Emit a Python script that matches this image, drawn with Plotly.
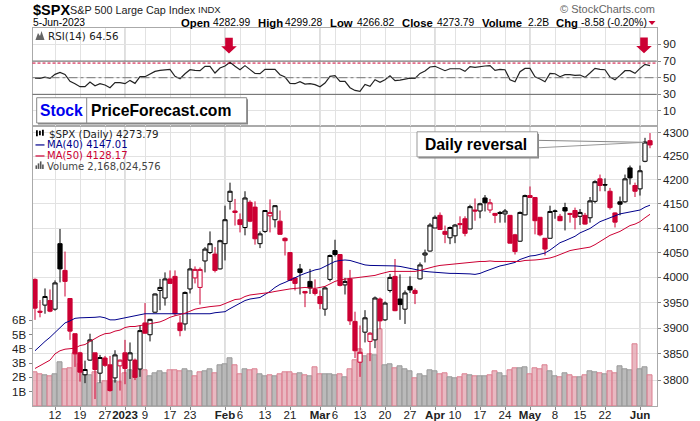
import plotly.graph_objects as go

# SPX daily, 6-Dec-2022 to 5-Jun-2023 (124 sessions)
opens = [3996, 3933, 3945, 3954, 3937, 4068, 4014, 3958, 3889, 3852,
         3810, 3838, 3852, 3813, 3842, 3829, 3804, 3827, 3852, 3838,
         3838, 3821, 3910, 3887, 3931, 3974, 3959, 3997, 4002, 3910,
         3908, 3977, 3999, 3980, 4033, 4050, 4047, 4017, 4068, 4155,
         4135, 4117, 4101, 4153, 4143, 4068, 4093, 4125, 4117, 4114,
         4079, 4050, 3999, 4017, 3972, 3992, 3976, 3962, 3937, 3996,
         4054, 4046, 3985, 3997, 3913, 3834, 3892, 3874, 3877, 3957,
         3916, 3974, 4002, 3957, 3937, 3982, 3974, 3997, 4045, 4053,
         4100, 4126, 4093, 4080, 4084, 4109, 4119, 4098, 4137, 4135,
         4162, 4137, 4130, 4132, 4129, 4126, 4086, 4073, 4127, 4167,
         4163, 4122, 4079, 4079, 4134, 4124, 4142, 4130, 4136, 4124,
         4126, 4121, 4155, 4202, 4190, 4176, 4131, 4154, 4154, 4225,
         4188, 4181, 4239, 4282.99]
highs = [3998, 3955, 3978, 3976, 3994, 4098, 4052, 3958, 3889, 3854,
         3837, 3889, 3852, 3848, 3846, 3846, 3857, 3839, 3877, 3872,
         3841, 3905, 3949, 3918, 3968, 3997, 4010, 4014, 4014, 3924,
         3972, 4037, 4022, 4020, 4061, 4093, 4061, 4076, 4146, 4194,
         4160, 4130, 4176, 4157, 4155, 4093, 4137, 4159, 4147, 4136,
         4081, 4050, 4000, 4027, 3972, 4017, 3996, 3974, 3982, 4046,
         4076, 4047, 3999, 4015, 3932, 3905, 3935, 3892, 3962, 3960,
         3952, 4007, 4037, 4006, 3974, 4002, 3978, 4030, 4056, 4110,
         4126, 4132, 4105, 4103, 4108, 4124, 4124, 4148, 4161, 4152,
         4168, 4160, 4131, 4135, 4139, 4126, 4088, 4134, 4169, 4186,
         4164, 4122, 4079, 4146, 4138, 4129, 4152, 4131, 4142, 4139,
         4131, 4164, 4199, 4211, 4203, 4183, 4132, 4165, 4211, 4230,
         4194, 4230, 4289, 4299.28]
lows = [3916, 3921, 3928, 3931, 3934, 3990, 3962, 3877, 3825, 3797,
        3794, 3837, 3764, 3795, 3825, 3778, 3795, 3780, 3792, 3802,
        3800, 3806, 3889, 3874, 3930, 3935, 3944, 3988, 3924, 3884,
        3895, 3968, 3988, 3946, 4010, 4047, 4010, 4016, 4034, 4138,
        4105, 4091, 4085, 4112, 4066, 4059, 4090, 4091, 4101, 4087,
        4044, 3994, 3974, 3966, 3941, 3967, 3964, 3937, 3924, 3992,
        4042, 3982, 3966, 3906, 3842, 3806, 3872, 3836, 3861, 3898,
        3914, 3970, 3933, 3916, 3908, 3969, 3947, 3996, 4030, 4052,
        4100, 4096, 4069, 4067, 4069, 4098, 4083, 4098, 4115, 4120,
        4134, 4131, 4110, 4111, 4111, 4069, 4046, 4072, 4126, 4162,
        4087, 4083, 4044, 4079, 4119, 4114, 4095, 4111, 4097, 4106,
        4107, 4111, 4151, 4176, 4176, 4138, 4101, 4126, 4152, 4190,
        4164, 4167, 4237, 4266.82]
closes = [3939, 3931, 3962, 3933, 3989, 4017, 3992, 3894, 3850, 3815,
          3820, 3877, 3820, 3843, 3828, 3780, 3848, 3838, 3822, 3852,
          3805, 3895, 3890, 3917, 3967, 3980, 3997, 3988, 3928, 3895,
          3970, 4017, 4016, 4016, 4057, 4068, 4014, 4074, 4117, 4176,
          4132, 4107, 4162, 4114, 4078, 4088, 4136, 4132, 4146, 4087,
          4074, 3994, 3988, 4010, 3969, 3979, 3968, 3948, 3979, 4044,
          4046, 3984, 3992, 3914, 3856, 3853, 3920, 3890, 3959, 3914,
          3949, 4000, 3934, 3946, 3969, 3975, 3968, 4025, 4049, 4106,
          4122, 4097, 4087, 4101, 4106, 4107, 4089, 4144, 4135, 4150,
          4152, 4152, 4126, 4130, 4135, 4069, 4052, 4132, 4167, 4163,
          4115, 4086, 4057, 4134, 4135, 4115, 4135, 4128, 4122, 4132,
          4108, 4156, 4196, 4188, 4189, 4142, 4112, 4149, 4202, 4204,
          4176, 4219, 4280, 4273.79]
# k = black candle / grey volume, r = red candle / pink volume
day_colors = ("rrkrkkrrrr" "kkrkrrkrrk" "rkrkkkkrrr" "kkrrkkrkkk" "rrkrrkkrkr"
              "rrrkrkrrkk" "krkrrrkrkr" "kkrkkkrkkk" "krrkkrrkrk" "krrkkrrkkr"
              "rrrkkrkrrk" "rkkrkrrkkk" "rkkr")
volume_b = [2.37, 2.23, 2.16, 2.09, 2.23, 3.08, 2.58, 2.65, 3.69, 2.93,
            2.16, 2.16, 2.35, 1.62, 1.76, 1.76, 1.76, 1.69, 2.30, 2.51,
            2.46, 2.51, 2.51, 2.09, 2.30, 2.46, 2.32, 2.51, 2.51, 2.46,
            2.58, 2.46, 2.09, 2.39, 2.46, 2.54, 2.30, 2.86, 2.93, 3.36,
            2.86, 2.23, 2.58, 2.51, 2.58, 2.23, 2.09, 2.16, 2.09, 2.23,
            2.39, 2.39, 2.23, 2.32, 2.16, 2.09, 2.72, 2.23, 2.23, 2.23,
            2.16, 2.23, 2.02, 2.58, 3.22, 3.99, 3.45, 3.64, 3.57, 5.40,
            2.86, 2.93, 2.65, 2.79, 2.58, 2.46, 1.95, 2.23, 2.09, 2.51,
            2.44, 2.23, 2.32, 2.02, 1.95, 2.02, 2.23, 2.16, 2.09, 2.09,
            2.09, 2.16, 2.44, 2.32, 2.09, 2.51, 2.65, 2.65, 2.72, 2.23,
            2.65, 2.58, 2.86, 2.44, 2.09, 2.02, 2.32, 2.16, 2.02, 2.02,
            2.16, 2.44, 2.37, 2.32, 2.23, 2.44, 2.32, 2.79, 2.58, 2.51,
            4.34, 2.58, 2.72, 2.17]
ma40 = [3856, 3866, 3874, 3882, 3892, 3901, 3910, 3914, 3919, 3920,
        3920, 3920, 3921, 3922, 3920, 3916, 3916, 3918, 3920, 3923,
        3925, 3926, 3928, 3928, 3928, 3928, 3928, 3928, 3928, 3928,
        3928, 3928, 3928, 3928, 3928, 3928, 3930, 3931, 3932, 3938,
        3943, 3948, 3954, 3957, 3959, 3960, 3966, 3972, 3980, 3986,
        3990, 3995, 3999, 4004, 4008, 4012, 4015, 4017, 4022, 4027,
        4032, 4034, 4035, 4034, 4031, 4028, 4025, 4024, 4024, 4024,
        4024, 4024, 4023, 4022, 4020, 4018, 4015, 4013, 4012, 4011,
        4010, 4009, 4008, 4008, 4008, 4008, 4007, 4007, 4006, 4008,
        4012, 4016, 4020, 4023, 4025, 4028, 4030, 4036, 4040, 4043,
        4044, 4046, 4049, 4055, 4063, 4070, 4074, 4079, 4083, 4090,
        4095, 4099, 4106, 4113, 4117, 4121, 4124, 4129, 4131, 4133,
        4134, 4137, 4143, 4147.01]
ma50 = [3822, 3827, 3832, 3838, 3850, 3856, 3859, 3860, 3861, 3866,
        3868, 3874, 3880, 3885, 3889, 3890, 3894, 3896, 3901, 3903,
        3903, 3905, 3907, 3909, 3911, 3912, 3916, 3921, 3924, 3926,
        3929, 3933, 3937, 3939, 3941, 3942, 3943, 3944, 3948, 3952,
        3956, 3957, 3962, 3965, 3966, 3968, 3969, 3970, 3972, 3974,
        3976, 3977, 3978, 3979, 3980, 3979, 3978, 3980, 3982, 3987,
        3992, 3995, 3997, 3998, 3999, 4000, 4001, 4002, 4004, 4007,
        4010, 4012, 4012, 4012, 4013, 4012, 4012, 4014, 4017, 4020,
        4022, 4024, 4025, 4026, 4027, 4028, 4030, 4031, 4032, 4032,
        4032, 4033, 4032, 4032, 4032, 4032, 4032, 4032, 4034, 4034,
        4035, 4036, 4037, 4039, 4042, 4046, 4049, 4054, 4056, 4058,
        4059, 4061, 4066, 4072, 4079, 4085, 4089, 4093, 4099, 4105,
        4108, 4113, 4121, 4128.17]
rsi = [49.6, 49.2, 50.8, 49.2, 54.0, 56.4, 54.0, 45.6, 42.8, 39.2,
       39.2, 44.8, 40.4, 42.8, 41.2, 38.0, 44.0, 44.0, 42.8, 46.8,
       43.2, 51.2, 51.2, 54.0, 57.6, 58.8, 59.6, 60.0, 51.6, 48.8,
       54.8, 59.6, 58.8, 58.4, 63.7, 63.7, 55.6, 61.6, 64.1, 68.5,
       63.7, 59.6, 64.5, 59.6, 55.2, 54.8, 60.0, 60.0, 60.0, 53.6,
       50.8, 43.2, 42.8, 45.2, 42.4, 42.8, 41.6, 39.2, 43.6, 51.6,
       52.4, 45.6, 45.6, 38.0, 34.7, 33.5, 42.0, 39.6, 47.6, 44.4,
       47.6, 52.4, 46.4, 47.2, 48.4, 49.6, 49.2, 55.2, 58.0, 62.9,
       63.7, 60.8, 58.4, 60.8, 61.2, 60.8, 57.6, 63.3, 62.4, 63.7,
       64.1, 64.5, 58.8, 60.0, 59.6, 47.6, 45.2, 57.2, 61.2, 61.2,
       51.2, 48.4, 45.2, 55.2, 54.8, 51.2, 53.6, 53.6, 52.8, 53.2,
       50.4, 55.6, 61.2, 60.0, 59.6, 50.8, 47.6, 52.8, 58.4, 58.4,
       55.2, 61.2, 66.1, 64.56]

tick_days = [4, 9, 14, 18, 22, 27, 31, 38, 41, 46, 51, 57, 60, 65, 70, 75,
             80, 84, 89, 94, 99, 104, 109, 114, 121]
tick_text = ["12", "19", "27", "<b>2023</b>", "9", "17", "23", "<b>Feb</b>", "6", "13",
             "21", "<b>Mar</b>", "6", "13", "20", "27", "<b>Apr</b>", "10", "17", "24",
             "<b>May</b>", "8", "15", "22", "<b>Jun</b>"]
month_days = [18, 38, 57, 80, 99, 121]
price_ticks = [3800, 3850, 3900, 3950, 4000, 4050, 4100, 4150, 4200, 4250, 4300]
volume_ticks = [1, 2, 3, 4, 5, 6]
rsi_ticks = [10, 30, 50, 70, 90]

W, H = 700, 421
# the photographed page comes out about 1% shorter, so stretch vertical placement to suit
Y_FIX = 421 / 418
RED = "#cc0033"
NAVY = "#00008b"
FONT = "Liberation Sans"


def fx(px):
    return px / W


def fy(px):
    return 1 - px * Y_FIX / H


days = list(range(len(closes)))
black_days = [i for i in days if day_colors[i] == "k"]
red_days = [i for i in days if day_colors[i] == "r"]

fig = go.Figure()

# volume sits on the lower axis so candles draw over it
fig.add_trace(go.Bar(
    x=days, y=volume_b, yaxis="y", xaxis="x", width=1,
    marker=dict(color=["rgba(178,178,178,0.9)" if c == "k" else "rgba(226,160,172,0.75)" for c in day_colors],
                line=dict(color=["#999999" if c == "k" else "#dc7f90" for c in day_colors], width=1)),
))


def candle_trace(idx, color):
    return go.Candlestick(
        x=idx,
        open=[opens[i] for i in idx],
        high=[highs[i] for i in idx],
        low=[lows[i] for i in idx],
        close=[closes[i] for i in idx],
        xaxis="x", yaxis="y2", whiskerwidth=0,
        increasing=dict(line=dict(color=color, width=1), fillcolor="white"),
        decreasing=dict(line=dict(color=color, width=1), fillcolor=color),
    )


fig.add_trace(candle_trace(black_days, "black"))
fig.add_trace(candle_trace(red_days, RED))
fig.add_trace(go.Scatter(x=days, y=ma40, xaxis="x", yaxis="y2", mode="lines",
                         line=dict(color=NAVY, width=1)))
fig.add_trace(go.Scatter(x=days, y=ma50, xaxis="x", yaxis="y2", mode="lines",
                         line=dict(color=RED, width=1)))
fig.add_trace(go.Scatter(x=days, y=rsi, xaxis="x2", yaxis="y3", mode="lines",
                         line=dict(color="#222222", width=1.2)))

shapes = []
# darker month lines through both panels
for d in month_days:
    shapes.append(dict(type="line", xref="x", yref="paper", x0=d, x1=d, y0=fy(405), y1=fy(28.3),
                       line=dict(color="#c8c8c8", width=1.2), layer="below"))
# RSI guide lines
shapes.append(dict(type="line", xref="paper", yref="y3", x0=fx(32.5), x1=fx(656.7), y0=70, y1=70,
                   line=dict(color="#666666", width=1)))
shapes.append(dict(type="line", xref="paper", yref="y3", x0=fx(32.5), x1=fx(656.7), y0=30, y1=30,
                   line=dict(color="#666666", width=1)))
shapes.append(dict(type="line", xref="paper", yref="y3", x0=fx(32.5), x1=fx(656.7), y0=50, y1=50,
                   line=dict(color="#777777", width=1, dash="dashdot")))
shapes.append(dict(type="line", xref="paper", yref="y3", x0=fx(32.5), x1=fx(656.7), y0=67.6, y1=67.6,
                   line=dict(color=RED, width=1, dash="3px,2px")))


def path_shape(points, fill, line_color=None, width=0):
    d = "M " + " L ".join(f"{fx(a):.5f},{fy(b):.5f}" for a, b in points) + " Z"
    return dict(type="path", xref="paper", yref="paper", path=d, fillcolor=fill,
                line=dict(color=line_color or fill, width=width))


def rect_shape(x0, y0, x1, y1, fill, line_color=None, width=0):
    return dict(type="rect", xref="paper", yref="paper", x0=fx(x0), x1=fx(x1), y0=fy(y0), y1=fy(y1),
                fillcolor=fill, line=dict(color=line_color or fill, width=width))


# red arrows
for cx, top in [(229, 37.7), (644, 37.3)]:
    shapes.append(path_shape([(cx - 3.8, top), (cx + 3.8, top), (cx + 3.8, top + 8.5), (cx + 7.8, top + 8.5),
                              (cx, top + 15.7), (cx - 7.8, top + 8.5), (cx - 3.8, top + 8.5)], RED))

# StockPriceForecast box
shapes.append(rect_shape(38, 99, 248, 124.2, "#888888"))
shapes.append(rect_shape(36.7, 97.5, 246.7, 122.7, "white", "#888888", 1))
shapes.append(dict(type="line", xref="paper", yref="paper", x0=fx(86.7), x1=fx(86.7), y0=fy(97.5), y1=fy(122.7),
                   line=dict(color="#888888", width=1)))

# Daily reversal callout
shapes.append(dict(type="line", xref="paper", yref="paper", x0=fx(537), x1=fx(644), y0=fy(140), y1=fy(142),
                   line=dict(color="#888888", width=1)))
shapes.append(dict(type="line", xref="paper", yref="paper", x0=fx(537), x1=fx(644), y0=fy(147.5), y1=fy(142),
                   line=dict(color="#999999", width=1)))
shapes.append(rect_shape(418.5, 133.5, 539, 158, "#888888"))
shapes.append(rect_shape(417, 131.5, 537.5, 156.5, "white", "#999999", 1))

# little panel icons
shapes.append(path_shape([(35.5, 40), (38, 33), (40, 36), (41.5, 31), (44.5, 40)], "#666666"))
shapes.append(rect_shape(35.5, 144, 44.5, 145.2, NAVY))
shapes.append(rect_shape(35.5, 155, 44.5, 156.2, RED))
for bx, bt in [(35.5, 165), (37.7, 163), (39.9, 161), (42.1, 164)]:
    shapes.append(rect_shape(bx, bt, bx + 1.6, 168.5, "#555555"))
for bx, bt, bb in [(36, 130, 136), (39, 130.5, 135), (42, 129.5, 135.5)]:
    shapes.append(rect_shape(bx, bt, bx + 1.8, bb, "black"))
# falling close marker
shapes.append(path_shape([(648.5, 21), (655.5, 21), (652, 25)], RED))

annotations = []


def label(x, y, text, size=10.5, color="black", anchor="left", font=FONT):
    annotations.append(dict(x=fx(x), y=fy(y), xref="paper", yref="paper", text=text, showarrow=False,
                            xanchor=anchor, yanchor="middle", align="left", borderpad=0,
                            font=dict(family=font, size=size, color=color)))


label(31.5, 9.5, "<b>$SPX</b>", 14.5)
label(69, 9.5, "S&P 500 Large Cap Index", 10.8, "#222222")
label(197, 9.5, "INDX", 9.5, "#222222")
label(32, 22.5, "5-Jun-2023", 10.3)
label(656, 9, "© StockCharts.com", 11, "#666666", "right")

header = [(180, "<b>Open</b>", 11.3), (212, "4282.99", 10.3), (257, "<b>High</b>", 11.3), (284, "4299.28", 10.3),
          (329, "<b>Low</b>", 11.3), (356, "4266.82", 10.3), (401, "<b>Close</b>", 11.3), (436, "4273.79", 10.3),
          (481, "<b>Volume</b>", 11.3), (527, "2.2B", 10.3), (555, "<b>Chg</b>", 11.3), (580, "-8.58 (-0.20%)", 10.3)]
for hx, text, size in header:
    label(hx, 22.5, text, size)

label(47, 36, "RSI(14) 64.56", 10.3, "#222222", font="DejaVu Sans")
label(47.5, 133.5, "$SPX (Daily) 4273.79", 10.3, "#222222", font="DejaVu Sans")
label(45.5, 144.5, "MA(40) 4147.01", 10, NAVY, font="DejaVu Sans")
label(45.5, 155.5, "MA(50) 4128.17", 10, RED, font="DejaVu Sans")
label(45.5, 166, "Volume 2,168,024,576", 10, "#444444", font="DejaVu Sans")

label(61.5, 110, "<b>Stock</b>", 15.7, "#0000ee", "center")
label(90, 110, "<b>PriceForecast.com</b>", 15.7)
label(424, 144, "<b>Daily reversal</b>", 15.7)

AXIS_LINE = "#aaaaaa"
GRID = "#e2e2e2"
fig.update_layout(
    width=W, height=H, autosize=False,
    margin=dict(l=0, r=0, t=0, b=0),
    paper_bgcolor="white", plot_bgcolor="white",
    showlegend=False, bargap=0, boxgap=0.16, boxgroupgap=0, hovermode=False,
    font=dict(family=FONT, size=11.5, color="#222222"),
    shapes=shapes, annotations=annotations,
    xaxis=dict(domain=[fx(32.5), fx(656.7)], range=[-0.5, 124.34], anchor="y",
               tickmode="array", tickvals=tick_days, ticktext=tick_text, ticklabelstandoff=-5,
               showgrid=True, gridcolor=GRID, gridwidth=1, showline=True, linecolor=AXIS_LINE, mirror=True,
               ticks="outside", ticklen=3, tickcolor="#888888", rangeslider=dict(visible=False),
               zeroline=False, tickangle=0, tickfont=dict(size=11.5)),
    xaxis2=dict(domain=[fx(32.5), fx(656.7)], matches="x", anchor="y3",
                tickmode="array", tickvals=tick_days, showticklabels=False,
                showgrid=True, gridcolor=GRID, gridwidth=1, showline=True, linecolor=AXIS_LINE, mirror=True,
                ticks="", zeroline=False),
    yaxis=dict(domain=[fy(405), fy(126)], range=[0, 19.6], side="left",
               tickmode="array", tickvals=volume_ticks, ticktext=[f"{v}B" for v in volume_ticks],
               showgrid=False, zeroline=False, showline=True, linecolor=AXIS_LINE,
               ticks="outside", ticklen=3, tickcolor="#888888", tickfont=dict(size=11.5)),
    yaxis2=dict(overlaying="y", side="right", type="log", anchor="x",
                range=[3.57415, 3.63486],
                tickmode="array", tickvals=price_ticks, ticktext=[str(v) for v in price_ticks],
                showgrid=True, gridcolor=GRID, gridwidth=1, zeroline=False, showline=True, linecolor=AXIS_LINE,
                ticks="outside", ticklen=3, tickcolor="#888888", tickfont=dict(size=11.5)),
    yaxis3=dict(domain=[fy(126), fy(28.3)], range=[-8.4, 109.3], side="right", anchor="x2",
                tickmode="array", tickvals=rsi_ticks, ticktext=[str(v) for v in rsi_ticks],
                showgrid=True, gridcolor=GRID, gridwidth=1, zeroline=False, showline=True, linecolor=AXIS_LINE,
                mirror=True, ticks="outside", ticklen=3, tickcolor="#888888", tickfont=dict(size=11.5)),
)

fig.write_html("out.html", config=dict(displayModeBar=False), default_width="700px", default_height="421px",
               post_script="document.body.style.margin='0';document.body.style.overflow='hidden';"
                           "document.documentElement.style.overflow='hidden';")
